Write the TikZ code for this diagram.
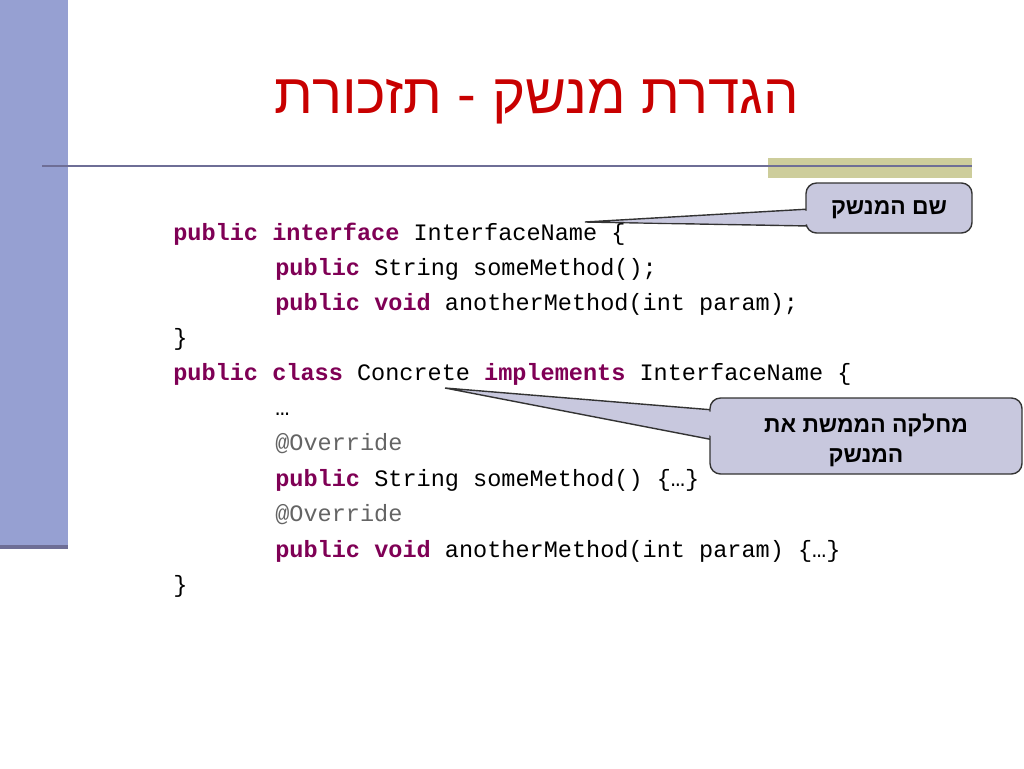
\documentclass[tikz,border=0pt]{standalone}
\usepackage{fontspec}
\setmonofont{Liberation Mono}
\newfontfamily\hebfont[Script=Hebrew]{Liberation Sans}
\TeXXeTstate=1
\definecolor{barblue}{RGB}{150,160,210}
\definecolor{linegray}{RGB}{110,110,150}
\definecolor{olive}{RGB}{205,205,155}
\definecolor{kwpurple}{RGB}{127,0,85}
\definecolor{annogray}{RGB}{100,100,100}
\definecolor{callfill}{RGB}{200,200,222}
\definecolor{titlered}{RGB}{200,0,0}
\newcommand{\kw}[1]{\textcolor{kwpurple}{\textbf{#1}}}

\begin{document}
\begin{tikzpicture}[
                            x=0.02cm,
                            y=-0.02cm,
                            code/.style={anchor=base west,inner sep=0pt,font=\ttfamily\fontsize{13.4}{16}\selectfont},
                            callout/.style={fill=callfill,draw=black!80,thick,rounded corners=6pt}
                        ]
                        \useasboundingbox (0,0) rectangle (1024,768);
                        % background
                        \fill[barblue] (0,0) rectangle (68,548);
                        \fill[linegray] (0,545) rectangle (68,549);
                        \fill[olive] (768,158) rectangle (972,178);
                        \draw[linegray,line width=1.2pt] (42,166) -- (972,166);

                        \node[text=titlered,font=\hebfont\fontsize{32}{36}\selectfont] (title) at (537,102) {\beginR הגדרת מנשק - תזכורת\endR};

                        % code
                        \node[code] (l1)  at (173,240) {\kw{public} \kw{interface} InterfaceName \{};
                        \node[code] (l2)  at (275,275) {\kw{public} String someMethod();};
                        \node[code] (l3)  at (275,310) {\kw{public} \kw{void} anotherMethod(int param);};
                        \node[code] (l4)  at (173,345) {\}};
                        \node[code] (l5)  at (173,380) {\kw{public} \kw{class} Concrete \kw{implements} InterfaceName \{};
                        \node[code] (l6)  at (275,415) {…};
                        \node[code] (l7)  at (275,450) {\textcolor{annogray}{@Override}};
                        \node[code] (l8)  at (275,486) {\kw{public} String someMethod() \{…\}};
                        \node[code] (l9)  at (275,521) {\textcolor{annogray}{@Override}};
                        \node[code] (l10) at (275,557) {\kw{public} \kw{void} anotherMethod(int param) \{…\}};
                        \node[code] (l11) at (173,592) {\}};

                        % callouts
                        \coordinate (tipA) at (585,222);
                        \coordinate (tipB) at (445,388);
                        \filldraw[callfill,draw=black!80,thick] (tipA) -- (810,209) -- (810,226) -- cycle;
                        \node[callout,minimum width=166*0.02cm,minimum height=50*0.02cm] (nameBox) at (889,208) {};
                        \fill[callfill] (tipA) ++(40,0) -- (812,210.5) -- (812,224.5) -- cycle;
                        \node[font=\hebfont\bfseries\fontsize{13}{16}\selectfont] (nameTxt) at (889,210) {\beginR שם המנשק\endR};

                        \filldraw[callfill,draw=black!80,thick] (tipB) -- (714,410) -- (714,440) -- cycle;
                        \node[callout,minimum width=312*0.02cm,minimum height=76*0.02cm] (implBox) at (866,436) {};
                        \fill[callfill] (tipB) ++(200,20) -- (716,412) -- (716,438) -- cycle;
                        \node[font=\hebfont\bfseries\fontsize{13}{17}\selectfont,align=center] (implTxt) at (866,440) {\beginR מחלקה הממשת את\endR\\\beginR המנשק\endR};
                    \end{tikzpicture}
\end{document}
